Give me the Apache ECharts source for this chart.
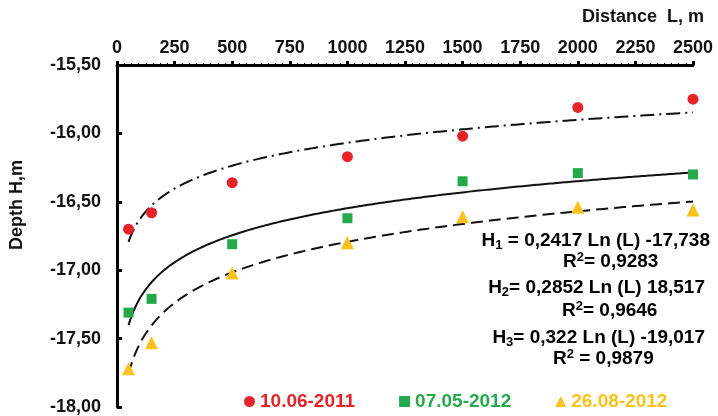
<!DOCTYPE html>
<html>
<head>
<meta charset="utf-8">
<script src="https://cdn.jsdelivr.net/npm/echarts@6/dist/echarts.min.js"></script>
<style>
  html, body { margin: 0; padding: 0; background: #fff; }
  #main { width: 718px; height: 416px; }
</style>
</head>
<body>
<div id="main"></div>
<script>
// distances, m
var distances = [50, 150, 500, 1000, 1500, 2000, 2500];
// depths per survey
var depth2011 = [-16.70, -16.58, -16.36, -16.17, -16.02, -15.81, -15.75];
var depth2012a = [-17.31, -17.21, -16.81, -16.62, -16.35, -16.29, -16.30];
var depth2012b = [-17.72, -17.53, -17.02, -16.80, -16.61, -16.54, -16.56];
var seriesNames = ['10.06-2011', '07.05-2012', '26.08-2012'];
var seriesColors = ['#e52329', '#26a94a', '#fcc21a'];
// log trend coefficients printed on the chart: H = a*Ln(L) + b
var fitA = [0.2417, 0.2852, 0.322];
var fitB = [-17.738, -18.517, -19.017];
var fitH = ['{t| = 0,2417 Ln (L) -17,738}', '{t|= 0,2852 Ln (L) 18,517}', '{t|= 0,322 Ln (L) -19,017}'];
var fitR2 = ['{t|= 0,9283}', '{t|= 0,9646}', '{t| = 0,9879}'];

var myChart = echarts.init(document.getElementById('main'));

function pairs(ys) {
  var out = [];
  for (var i = 0; i < distances.length; i++) {
    out.push([distances[i], ys[i]]);
  }
  return out;
}

function trend(k) {
  var out = [];
  for (var L = 50; L <= 2500; L += 10) {
    out.push([L, fitA[k] * Math.log(L) + fitB[k]]);
  }
  return out;
}

var font = 'Liberation Sans, Arial, sans-serif';
var dashes = [[14, 5, 2, 5], null, [12, 6]];

var series = [];
[depth2011, depth2012a, depth2012b].forEach(function (d, k) {
  series.push({
    name: 'fit' + k,
    type: 'line',
    data: trend(k),
    showSymbol: false,
    silent: true,
    z: 1,
    lineStyle: {
      color: '#111',
      width: 2,
      type: dashes[k] ? dashes[k] : 'solid'
    }
  });
});
var symbols = ['circle', 'rect', 'triangle'];
var sizes = [11, 10, 13];
[depth2011, depth2012a, depth2012b].forEach(function (d, k) {
  series.push({
    name: seriesNames[k],
    type: 'scatter',
    data: pairs(d),
    symbol: symbols[k],
    symbolSize: sizes[k],
    z: 3,
    itemStyle: { color: seriesColors[k], opacity: 1 }
  });
});

var rich = {
  t: { fontFamily: font, fontWeight: 'bold', fontSize: 19, color: '#222' },
  s: { fontFamily: font, fontWeight: 'bold', fontSize: 13, color: '#222', padding: [9, 0, 0, 0] },
  p: { fontFamily: font, fontWeight: 'bold', fontSize: 13, color: '#222', padding: [0, 0, 9, 0] }
};

var graphics = [
  { type: 'text', left: 582, top: 8, style: { text: 'Distance  L, m', font: 'bold 18px ' + font, fill: '#111' } },
  { type: 'text', left: 8, top: 160, rotation: Math.PI / 2, style: { text: 'Depth H,m', font: 'bold 18px ' + font, fill: '#111' } }
];
var hY = [231, 278, 328];
var rY = [251, 300, 348];
var rX = [563, 562, 553];
var hR = [8, 13, 13];
for (var k = 0; k < 3; k++) {
  graphics.push({
    type: 'text', right: hR[k], top: hY[k],
    style: { text: '{t|H}{s|' + (k + 1) + '}' + fitH[k], rich: rich }
  });
  graphics.push({
    type: 'text', left: rX[k], top: rY[k],
    style: { text: '{t|R}{p|2}' + fitR2[k], rich: rich }
  });
}

myChart.setOption({
  animation: false,
  grid: {
    left: 117,
    right: 25,
    top: 65,
    bottom: 9
  },
  legend: {
    data: seriesNames.map(function (n, k) {
      return { name: n, textStyle: { color: seriesColors[k] } };
    }),
    left: 239,
    bottom: 0,
    itemGap: 44,
    itemWidth: 11,
    itemHeight: 11,
    textStyle: { fontFamily: font, fontWeight: 'bold', fontSize: 19 }
  },
  xAxis: {
    type: 'value',
    position: 'top',
    min: 0,
    max: 2500,
    interval: 250,
    axisLine: { lineStyle: { color: '#000', width: 3 } },
    axisTick: { show: true, length: 4, lineStyle: { width: 3, color: '#000' } },
    minorTick: { show: true, splitNumber: 8, length: 2, lineStyle: { color: '#000', width: 1 } },
    axisLabel: {
      color: '#111', fontFamily: font, fontWeight: 'bold', fontSize: 18, margin: 8,
      formatter: function (v) { return String(v); }
    },
    splitLine: { show: false }
  },
  yAxis: {
    type: 'value',
    min: -18,
    max: -15.5,
    interval: 0.5,
    axisLine: { show: true, lineStyle: { color: '#000', width: 3 } },
    axisTick: { show: true, inside: true, length: 5, lineStyle: { width: 3, color: '#000' } },
    minorTick: { show: true, splitNumber: 10, length: 2, lineStyle: { color: '#000', width: 1 } },
    axisLabel: {
      color: '#111', fontFamily: font, fontWeight: 'bold', fontSize: 18, margin: 16,
      formatter: function (v) { return v.toFixed(2).replace('.', ','); }
    },
    splitLine: { show: false }
  },
  graphic: graphics,
  series: series
});
</script>
</body>
</html>
